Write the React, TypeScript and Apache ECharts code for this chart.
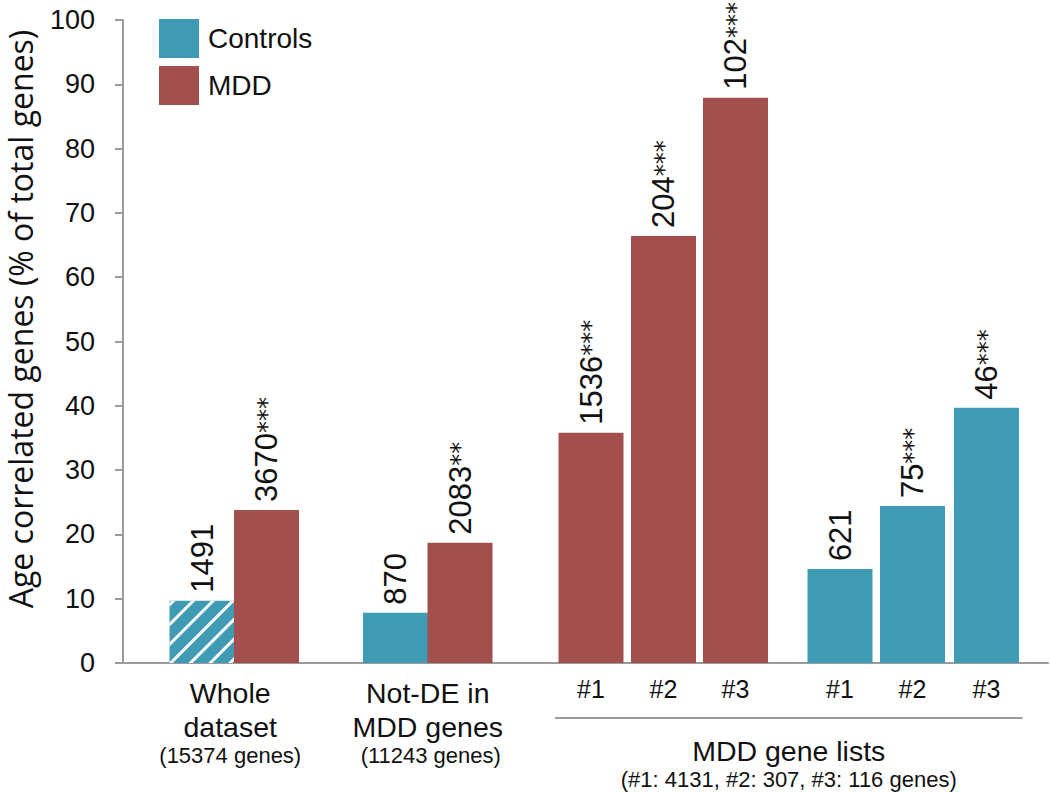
import React, { useEffect, useRef } from "react";
import * as echarts from "echarts";

// ---- data ----
const barGroups = [
  "Whole dataset", "Whole dataset",
  "Not-DE in MDD genes", "Not-DE in MDD genes",
  "MDD gene list #1", "MDD gene list #2", "MDD gene list #3",
  "MDD gene list #1", "MDD gene list #2", "MDD gene list #3",
];
const barSamples = ["Controls", "MDD", "Controls", "MDD", "MDD", "MDD", "MDD", "Controls", "Controls", "Controls"];
const pctValues = [9.7, 23.8, 7.8, 18.7, 35.8, 66.4, 87.9, 14.6, 24.4, 39.7];
const geneCounts = [1491, 3670, 870, 2083, 1536, 204, 102, 621, 75, 46];
const significance = ["", "***", "", "**", "***", "***", "***", "", "***", "***"];
const listTickLabels = ["#1", "#2", "#3", "#1", "#2", "#3"];
const yTicks = { min: 0, max: 100, interval: 10 };
const yTitle = "Age correlated genes (% of total genes)";

// ---- layout (positions along hidden x axis, style) ----
const BAR_X = [79, 143.5, 272.5, 337, 468, 540.5, 612.5, 717, 789.5, 863.5];
const X_MAX = 925;
const HATCHED = [true, false, false, false, false, false, false, false, false, false];
const TEAL = "#3f9bb3";
const RED = "#a34f4d";
const GRAY = "#9b9b9b";
const SANS = "Liberation Sans, Arial, sans-serif";
const OPEN = "Open Sans, sans-serif";
const DEJAVU = "DejaVu Sans, sans-serif";

function buildSeriesData(sample: string) {
  const out: any[] = [];
  barSamples.forEach((s, i) => {
    if (s !== sample) return;
    const item: any = {
      name: `${geneCounts[i]}${significance[i]}`,
      value: [BAR_X[i], pctValues[i]],
      count: geneCounts[i],
      stars: significance[i],
    };
    if (HATCHED[i]) {
      item.itemStyle = {
        decal: {
          symbol: "rect",
          symbolSize: 1,
          color: "#ffffff",
          dashArrayX: [1, 0],
          dashArrayY: [3, 11],
          rotation: -Math.PI / 4,
        },
      };
    }
    out.push(item);
  });
  return out;
}

export default function App() {
  const ref = useRef<HTMLDivElement>(null);
  useEffect(() => {
    if (!ref.current) return;
    const chart = echarts.init(ref.current, undefined, { renderer: "svg" });
    const labelCfg = {
      show: true,
      position: "top",
      rotate: 90,
      align: "left",
      verticalAlign: "middle",
      distance: 8,
      color: "#111",
      formatter: (p: any) =>
        `{d|${p.data.count}}` + (p.data.stars ? `{s|${p.data.stars}}` : ""),
      rich: {
        d: { fontSize: 31, fontFamily: SANS, color: "#111" },
        s: { fontSize: 24, fontFamily: DEJAVU, color: "#111" },
      },
    };
    chart.setOption({
      animation: false,
      backgroundColor: "#ffffff",
      grid: { left: 123, right: 2, top: 20, bottom: 129, containLabel: false, outerBoundsMode: "none" },
      legend: {
        data: ["Controls", "MDD"],
        orient: "vertical",
        left: 159,
        top: 19,
        padding: 0,
        itemWidth: 40,
        itemHeight: 39,
        itemGap: 8,
        icon: "rect",
        selectedMode: false,
        textStyle: { fontSize: 28, fontFamily: SANS, color: "#111", padding: [0, 0, 0, 4] },
      },
      xAxis: {
        type: "value",
        min: 0,
        max: X_MAX,
        axisLine: { show: true, onZero: false, lineStyle: { color: GRAY, width: 2 } },
        axisTick: { show: false },
        axisLabel: { show: false },
        splitLine: { show: false },
      },
      yAxis: {
        type: "value",
        min: yTicks.min,
        max: yTicks.max,
        interval: yTicks.interval,
        axisLine: { show: true, lineStyle: { color: GRAY, width: 2 } },
        axisTick: { show: true, length: 8, lineStyle: { color: GRAY, width: 2 } },
        axisLabel: { fontSize: 27, fontFamily: SANS, color: "#111", margin: 28 },
        splitLine: { show: false },
      },
      series: [
        {
          name: "Controls",
          type: "bar",
          barWidth: 65,
          barGap: "-100%",
          itemStyle: { color: TEAL },
          label: labelCfg,
          data: buildSeriesData("Controls"),
        },
        {
          name: "MDD",
          type: "bar",
          barWidth: 65,
          barGap: "-100%",
          itemStyle: { color: RED },
          label: labelCfg,
          data: buildSeriesData("MDD"),
        },
      ],
    });

    const px = (x: number) => (chart.convertToPixel({ xAxisIndex: 0 }, x) as number);
    const center = (names: string[]) => {
      const idx = barGroups.map((g, i) => (names.includes(g) ? i : -1)).filter((i) => i >= 0);
      const xs = idx.map((i) => px(BAR_X[i]));
      return (Math.min(...xs) + Math.max(...xs)) / 2;
    };
    const wholeX = center(["Whole dataset"]) - 4;
    const notDeX = center(["Not-DE in MDD genes"]);
    const listsX = center(["MDD gene list #1", "MDD gene list #2", "MDD gene list #3"]);
    const listIdx = barGroups.map((g, i) => (g.startsWith("MDD gene list") ? i : -1)).filter((i) => i >= 0);
    const firstListLeft = px(BAR_X[listIdx[0]]) - 36;
    const lastListRight = px(BAR_X[listIdx[listIdx.length - 1]]) + 36;

    const txt = (text: string, x: number, y: number, size: number) => ({
      type: "text",
      x,
      y,
      style: {
        text,
        fontSize: size,
        fontFamily: SANS,
        fill: "#111",
        align: "center",
        verticalAlign: "middle",
      },
    });

    const graphics: any[] = [
      {
        type: "text",
        x: 20,
        y: 319,
        rotation: Math.PI / 2,
        style: {
          text: yTitle,
          fontSize: 32,
          fontFamily: OPEN,
          fill: "#111",
          align: "center",
          verticalAlign: "middle",
        },
      },
      txt("Whole", wholeX, 693, 28.5),
      txt("dataset", wholeX, 727, 28.5),
      txt("(15374 genes)", wholeX, 755.5, 22),
      txt("Not-DE in", notDeX, 693, 28.5),
      txt("MDD genes", notDeX, 727, 28.5),
      txt("(11243 genes)", notDeX + 3, 755.5, 22),
      {
        type: "line",
        shape: { x1: firstListLeft, y1: 718, x2: lastListRight, y2: 718 },
        style: { stroke: GRAY, lineWidth: 2 },
      },
      txt("MDD gene lists", listsX, 751, 28.5),
      txt("(#1: 4131, #2: 307, #3: 116 genes)", listsX, 779.5, 22),
    ];
    listIdx.forEach((bi, k) => {
      graphics.push(txt(listTickLabels[k], px(BAR_X[bi]), 689, 25));
    });
    chart.setOption({ graphic: graphics });

    return () => chart.dispose();
  }, []);
  return (
    <div
      ref={ref}
      style={{ position: "absolute", left: 0, top: 0, width: 1050, height: 792, background: "#fff" }}
    />
  );
}
